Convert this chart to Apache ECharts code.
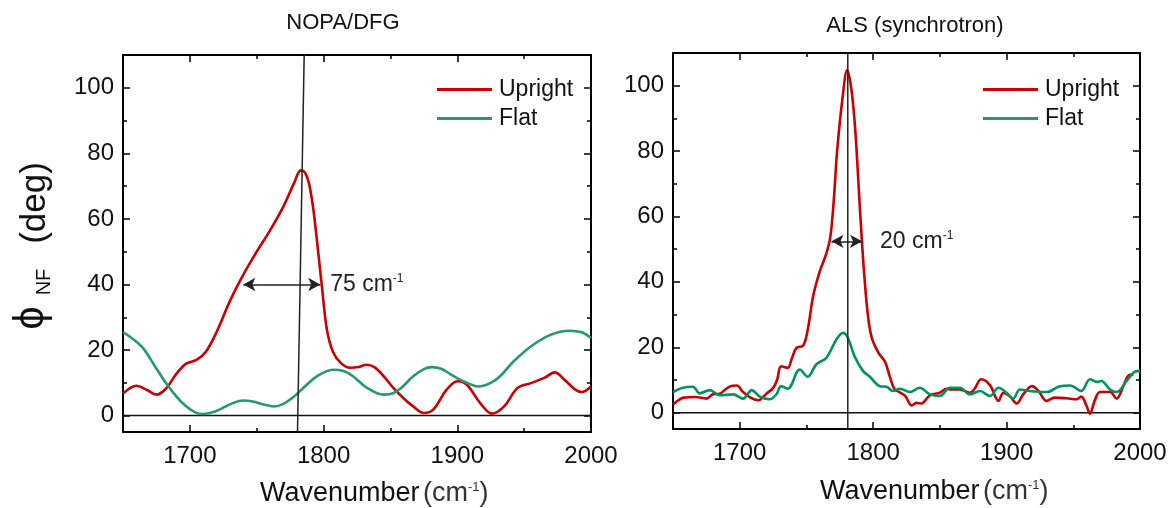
<!DOCTYPE html>
<html>
<head>
<meta charset="utf-8">
<title>phi NF spectra</title>
<script src="https://cdn.jsdelivr.net/npm/echarts@6/dist/echarts.min.js"></script>
<style>
  html, body { margin: 0; padding: 0; background: #fff; }
  #chart { width: 1171px; height: 508px; }
</style>
</head>
<body>
<div id="chart"></div>
<script>
// tick values
const xMajor = [1700, 1800, 1900, 2000];
const xMinor = [1750, 1850, 1950];
const yMajor = [0, 20, 40, 60, 80, 100];
const yMinor = [10, 30, 50, 70, 90];

// NOPA/DFG panel
const nopaUpright = [[1650, 6.7], [1660, 9.1], [1668, 7.8], [1675, 6.4], [1682, 8.2], [1690, 12.8], [1697, 15.8], [1705, 17], [1712, 19.5], [1720, 25.5], [1730, 35], [1740, 43], [1750, 50], [1760, 56.5], [1770, 63.8], [1778, 71], [1783, 74.8], [1786, 74.2], [1789, 71], [1792, 64], [1795, 53.6], [1799, 38.4], [1802.5, 26.2], [1807, 19.5], [1813, 16], [1820, 14.6], [1826, 14.8], [1832, 15.5], [1838, 14.8], [1845, 12], [1852, 8.5], [1860, 5.2], [1867, 2.8], [1875, 0.8], [1882, 1.8], [1892, 7.9], [1900, 10.5], [1907, 9.5], [1917, 3.9], [1926, 0.6], [1935, 2.8], [1945, 8.4], [1955, 9.9], [1965, 11.5], [1973, 13.2], [1980, 11], [1988, 8], [1993, 7.2], [2000, 8.9]];
const nopaFlat = [[1650, 25.5], [1657, 23.5], [1665, 20.6], [1674, 15], [1682, 10], [1690, 5.8], [1697, 2.9], [1704, 1], [1710, 0.5], [1717, 1], [1724, 2.2], [1732, 3.8], [1740, 4.6], [1748, 4.2], [1755, 3.4], [1763, 2.8], [1770, 3.6], [1777, 5.5], [1785, 8.5], [1795, 12], [1807, 14], [1815, 13.6], [1822, 12], [1832, 8.6], [1845, 6.4], [1852, 6.8], [1858, 8.4], [1867, 12], [1875, 14.2], [1881, 14.8], [1888, 14.3], [1895, 12.6], [1905, 10.4], [1916, 8.9], [1925, 10], [1932, 12], [1942, 16.5], [1955, 21.1], [1970, 24.7], [1984, 25.9], [1993, 25.4], [2000, 23.7]];
const nopaPeakLine = [[1780.5, -5], [1785.5, 110]];
const nopaArrow = [1740, 1797.5, 40];
const nopaWidth = '75 cm';

// ALS panel
const alsUpright = [[1650, 2.5], [1654, 3.8], [1658, 4.6], [1667, 4.8], [1675, 4.3], [1680, 5.6], [1685, 5.8], [1689, 7], [1693, 8.1], [1698, 8.3], [1702, 6.5], [1708, 4.6], [1714, 3.8], [1720, 5.8], [1725, 7.5], [1728, 10], [1731, 14.2], [1736, 13.7], [1739, 16.5], [1742.5, 19.8], [1747.5, 20.5], [1751, 25.4], [1755, 35.6], [1760, 43.2], [1765, 48.8], [1768, 54], [1770.5, 65], [1773, 80], [1777, 96], [1780.5, 104.8], [1784, 98], [1787, 84], [1790, 63], [1793, 44], [1796, 30], [1799, 22.9], [1804, 18.3], [1809, 15.5], [1812.5, 11], [1816, 7.2], [1820, 6.2], [1824, 5.1], [1829, 2.2], [1832.5, 3], [1836, 2.8], [1842.5, 5.3], [1850, 6.1], [1855, 7.3], [1859, 7.1], [1865, 7.1], [1872.5, 6.1], [1876, 7.3], [1881, 10.2], [1887.5, 8.4], [1894, 3.6], [1897.5, 6], [1902.5, 5], [1907.5, 2.8], [1912.5, 5.6], [1919, 8.1], [1924, 6.6], [1930, 3.6], [1936, 4.6], [1945, 4.4], [1952.5, 4.1], [1956, 4.9], [1960, 2], [1962.5, -0.3], [1966, 3.6], [1970, 6.3], [1977.5, 6.3], [1982.5, 4.3], [1987.5, 8.1], [1991, 11.2], [1995, 11.7]];
const alsFlat = [[1650, 6.3], [1657.5, 7.6], [1665, 7.9], [1670, 5.9], [1677.5, 6.9], [1685, 5.3], [1695, 5.6], [1702.5, 4.3], [1709, 6.9], [1715, 4.9], [1722.5, 4.1], [1727.5, 5.6], [1731, 8.1], [1736, 7.3], [1745, 13.2], [1751, 11], [1757.5, 14.8], [1765, 16.8], [1772.5, 22.4], [1777.5, 24.4], [1781, 22.9], [1786, 17.3], [1792.5, 12.7], [1797.5, 11], [1805, 8.1], [1810, 7.9], [1815, 6.6], [1820, 7.3], [1827.5, 6.3], [1835, 7.6], [1842.5, 5.6], [1850, 5.1], [1857.5, 7.6], [1865, 7.6], [1872.5, 5.6], [1880, 6.6], [1887.5, 5.1], [1894, 7.6], [1900, 6.1], [1905, 4.3], [1910, 7.1], [1917.5, 6.6], [1930, 6.3], [1940, 8.1], [1947.5, 8.3], [1956, 6.6], [1962.5, 10.2], [1967.5, 9.4], [1971, 9.7], [1977.5, 7.1], [1982.5, 6.3], [1990, 9.7], [1997.5, 12.7], [2000, 12.7]];
const alsPeakLine = [[1781, -5], [1781, 110]];
const alsArrow = [1768.8, 1791.7, 52.4];
const alsWidth = '20 cm';

const zeroLine = [[1650, 0], [2000, 0]];

const FONT = 'Liberation Sans, Arial, Helvetica, sans-serif';
const RED = '#cc0000';
const INK = '#111';

const chart = echarts.init(document.getElementById('chart'));

/**
 * one axis of the box: main (line + long ticks) or minor (short ticks only)
 */
function makeAxis(dim, grid, position, ticks, major, labels) {
  const ax = {
    type: 'value',
    gridIndex: grid,
    position: position,
    min: dim === 'x' ? 1650 : -5,
    max: dim === 'x' ? 2000 : 110,
    axisLine: { show: major, onZero: false, lineStyle: { color: '#000', width: 2 } },
    axisTick: {
      show: true, inside: true, length: major ? 7 : 4,
      customValues: ticks,
      lineStyle: { color: '#000', width: 1.5 }
    },
    axisLabel: { show: false },
    splitLine: { show: false }
  };
  if (labels) {
    ax.axisLabel = {
      show: true, customValues: ticks, margin: dim === 'x' ? 12 : 9,
      fontSize: 24, color: INK, fontFamily: FONT,
      formatter: v => String(v)
    };
  }
  return ax;
}

function gridAxes(dim, grid) {
  const p1 = dim === 'x' ? 'bottom' : 'left';
  const p2 = dim === 'x' ? 'top' : 'right';
  const maj = dim === 'x' ? xMajor : yMajor;
  const min = dim === 'x' ? xMinor : yMinor;
  return [
    makeAxis(dim, grid, p1, maj, true, true),
    makeAxis(dim, grid, p1, min, false, false),
    makeAxis(dim, grid, p2, maj, true, false),
    makeAxis(dim, grid, p2, min, false, false)
  ];
}

const supRich = {
  a: { fontSize: 23, color: '#222', fontFamily: FONT },
  s: { fontSize: 12, color: '#222', fontFamily: FONT, verticalAlign: 'top' }
};

function panelSeries(ax, upright, flat, flatColor, peakLine, arrow, widthText, labelGap) {
  const lineOf = (data, color, w) => ({
    type: 'line', xAxisIndex: ax, yAxisIndex: ax, data: data,
    symbol: 'none', silent: true, lineStyle: { color: color, width: w },
    itemStyle: { color: color }, z: 3
  });
  const up = lineOf(upright, RED, 2.6);
  up.name = 'Upright';
  up.smooth = 0.35;
  up.markLine = {
    silent: true,
    symbol: ['arrow', 'arrow'],
    symbolSize: [10, 12],
    lineStyle: { color: '#222', width: 1.5, type: 'solid' },
    label: {
      show: true, position: 'end', distance: labelGap,
      formatter: '{a|' + widthText + '}{s|-1}', rich: supRich
    },
    data: [[{ coord: [arrow[0], arrow[2]] }, { coord: [arrow[1], arrow[2]] }]]
  };
  const fl = lineOf(flat, flatColor, 2.6);
  fl.name = 'Flat';
  fl.smooth = 0.35;
  const peak = lineOf(peakLine, '#222', 1.5);
  peak.z = 4;
  const zero = lineOf(zeroLine, '#111', 1.5);
  zero.z = 2;
  return [up, fl, peak, zero];
}

function legendAt(left, top) {
  return {
    orient: 'vertical', left: left, top: top,
    icon: 'rect', itemWidth: 55, itemHeight: 3, itemGap: 6,
    selectedMode: false,
    textStyle: { fontSize: 23, color: INK, fontFamily: FONT, padding: [0, 0, 0, 2] },
    data: ['Upright', 'Flat']
  };
}

function text(x, y, str, size, extra) {
  return Object.assign({
    type: 'text', x: x, y: y, silent: true,
    style: {
      text: str, fontSize: size, fontFamily: FONT, fill: INK,
      align: 'center', verticalAlign: 'middle'
    }
  }, extra || {});
}

function xName(x, y) {
  return {
    type: 'text', x: x, y: y, silent: true,
    style: {
      text: '{a|Wavenumber} {b|(cm}{s|-1}{b|)}',
      align: 'left', verticalAlign: 'middle',
      rich: {
        a: { fontSize: 27, fontFamily: FONT, fill: INK, color: INK },
        b: { fontSize: 27, fontFamily: FONT, fill: '#333', color: '#333' },
        s: { fontSize: 13, fontFamily: FONT, fill: '#333', color: '#333', verticalAlign: 'top' }
      }
    }
  };
}

const option = {
  animation: false,
  backgroundColor: '#fff',
  grid: [
    { left: 123, top: 55, width: 468, height: 377 },
    { left: 673, top: 53, width: 467, height: 376 }
  ],
  xAxis: gridAxes('x', 0).concat(gridAxes('x', 1)),
  yAxis: gridAxes('y', 0).concat(gridAxes('y', 1)),
  legend: [legendAt(432, 73), legendAt(978, 73)],
  series: panelSeries(0, nopaUpright, nopaFlat, '#239a74', nopaPeakLine, nopaArrow, nopaWidth, 10)
    .concat(panelSeries(4, alsUpright, alsFlat, '#00935c', alsPeakLine, alsArrow, alsWidth, 18)),
  graphic: [
    text(343, 23, 'NOPA/DFG', 22, {}),
    text(915, 26, 'ALS (synchrotron)', 22, {}),
    xName(260, 494),
    xName(820, 492),
    // y axis title, rotated
    text(31, 318, 'ϕ', 42, { rotation: Math.PI / 2 }),
    text(44, 282, 'NF', 20, { rotation: Math.PI / 2 }),
    text(35, 203, '(deg)', 35, { rotation: Math.PI / 2 })
  ]
};

chart.setOption(option);
</script>
</body>
</html>
